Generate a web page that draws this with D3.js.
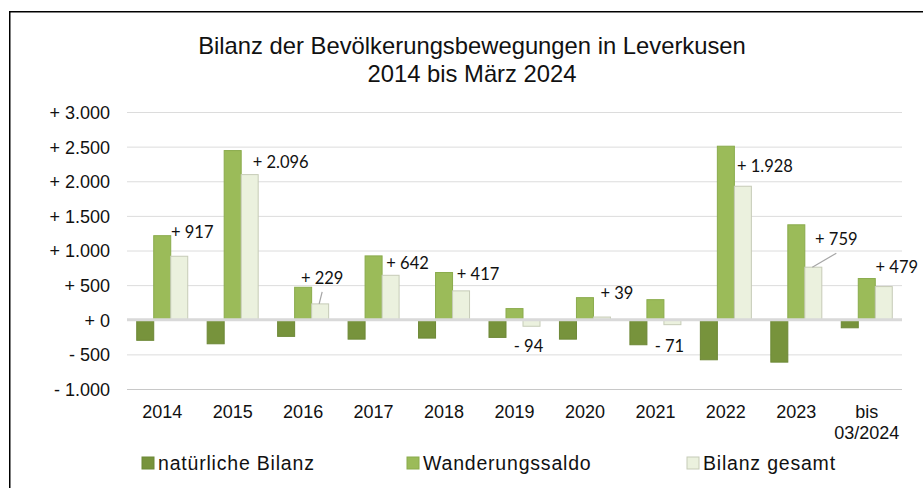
<!DOCTYPE html>
<html>
<head>
<meta charset="utf-8">
<script src="https://cdn.jsdelivr.net/npm/d3@7"></script>
<style>
  body { margin: 0; background: #fff; }
  svg { display: block; }
</style>
</head>
<body>
<div id="chart"></div>
<script>
// data
const categories = ['2014', '2015', '2016', '2017', '2018', '2019', '2020', '2021', '2022', '2023', 'bis 03/2024']
const natuerlich = [-297, -347, -240, -280, -265, -255, -280, -361, -578, -612, -116]
const wanderung = [1214, 2443, 469, 922, 682, 161, 319, 290, 2506, 1371, 595]
const gesamt = [917, 2096, 229, 642, 417, -94, 39, -71, 1928, 759, 479]
const yTicks = [-1000, -500, 0, 500, 1000, 1500, 2000, 2500, 3000]
const seriesNames = ['natürliche Bilanz', 'Wanderungssaldo', 'Bilanz gesamt']

// label nudges (dx, dy) relative to the "gesamt" bar end, as dragged in the original
const labelNudge = [[13, -24], [31, -13], [2, -26], [17, -12], [17, -17], [-3, 20], [15, -24], [-3, 21], [22, -20], [23, -28], [13, -20]]
const leaderFor = ['2016', '2023']

const colors = ['#77933c', '#9bbb59', '#ebf1de']
const strokes = ['#6d8836', '#8aab4c', '#c6cbb7']

const width = 923, height = 488
const plot = { left: 127, right: 902, top: 112, bottom: 389 }

const svg = d3.select('#chart').append('svg')
    .attr('width', width)
    .attr('height', height)

// frame
svg.append('rect')
    .attr('x', 9.75).attr('y', 11.75)
    .attr('width', 1000).attr('height', 1000)
    .attr('fill', 'none')
    .attr('stroke', '#000')
    .attr('stroke-width', 1.5)

// title
const title = svg.append('text')
    .attr('text-anchor', 'middle')
    .attr('font-family', 'Liberation Sans, Arial, sans-serif')
    .attr('font-size', 23.8)
    .attr('fill', '#111')
title.append('tspan').attr('x', 472).attr('y', 54).text('Bilanz der Bevölkerungsbewegungen in Leverkusen')
title.append('tspan').attr('x', 472).attr('y', 81.5).text('2014 bis März 2024')

const x = d3.scaleBand()
    .domain(categories)
    .range([plot.left, plot.right])
    .paddingInner(0.276)
    .paddingOuter(0.138)

const xs = d3.scaleBand()
    .domain([0, 1, 2])
    .range([0, x.bandwidth()])

const y = d3.scaleLinear()
    .domain([-1000, 3000])
    .range([plot.bottom, plot.top])

const fmt = v => {
    let s = d3.format(',')(Math.abs(v)).replace(/,/g, '.')
    return (v < 0 ? '- ' : '+ ') + s
}

// grid + y labels
const yAxis = d3.axisLeft(y)
    .tickValues(yTicks)
    .tickSize(-(plot.right - plot.left))
    .tickPadding(17)
    .tickFormat(fmt)

const yAxisG = svg.append('g')
    .attr('transform', `translate(${plot.left}, 0)`)
    .call(yAxis)
yAxisG.select('.domain').remove()
yAxisG.selectAll('.tick line')
    .attr('stroke', d => d === -1000 ? '#c8c8c8' : '#dcdcdc')
    .attr('stroke-width', 1)
yAxisG.selectAll('.tick text')
    .attr('font-family', 'Liberation Sans, Arial, sans-serif')
    .attr('font-size', 18)
    .attr('fill', '#111')
    .attr('dy', '0.36em')

// bars
const series = [natuerlich, wanderung, gesamt]
series.forEach((vals, s) => {
    svg.append('g').selectAll('rect')
        .data(vals)
        .join('rect')
        .attr('x', (d, i) => x(categories[i]) + xs(s))
        .attr('width', xs.bandwidth())
        .attr('y', d => y(Math.max(0, d)))
        .attr('height', d => Math.abs(y(d) - y(0)))
        .attr('fill', colors[s])
        .attr('stroke', strokes[s])
        .attr('stroke-width', 1)
})

// zero line on top of bars
svg.append('line')
    .attr('x1', plot.left).attr('x2', plot.right)
    .attr('y1', y(0)).attr('y2', y(0))
    .attr('stroke', '#d9d9d9')
    .attr('stroke-width', 3)

// x labels
const xAxisG = svg.append('g')
xAxisG.selectAll('text')
    .data(categories)
    .join('text')
    .attr('x', d => x(d) + x.bandwidth() / 2)
    .attr('y', 418)
    .attr('text-anchor', 'middle')
    .attr('font-family', 'Liberation Sans, Arial, sans-serif')
    .attr('font-size', 18)
    .attr('fill', '#111')
    .each(function (d) {
        const parts = d.split(' ')
        const t = d3.select(this)
        parts.forEach((p, k) => {
            t.append('tspan')
                .attr('x', x(d) + x.bandwidth() / 2)
                .attr('dy', k === 0 ? 0 : 21)
                .text(p)
        })
    })

// data labels for "Bilanz gesamt"
const labelG = svg.append('g')
gesamt.forEach((v, i) => {
    const cat = categories[i]
    const bx = x(cat) + xs(2) + xs.bandwidth() / 2
    const by = y(v)
    const lx = bx + labelNudge[i][0]
    const ly = by + labelNudge[i][1]
    if (leaderFor.includes(cat)) {
        labelG.append('line')
            .attr('x1', lx).attr('y1', ly + 14)
            .attr('x2', bx - 1).attr('y2', by)
            .attr('stroke', '#a6a6a6')
            .attr('stroke-width', 1.2)
    }
    labelG.append('text')
        .attr('x', lx)
        .attr('y', ly)
        .attr('dy', '0.36em')
        .attr('text-anchor', 'middle')
        .attr('font-family', 'Lato, Open Sans, sans-serif')
        .attr('font-size', 16.5)
        .attr('fill', '#111')
        .text(fmt(v))
})

// legend
const legendX = [142, 407, 687]
const legend = svg.append('g')
seriesNames.forEach((name, s) => {
    legend.append('rect')
        .attr('x', legendX[s]).attr('y', 457)
        .attr('width', 12).attr('height', 12)
        .attr('fill', colors[s])
        .attr('stroke', s === 2 ? '#c6cbb7' : strokes[s])
    legend.append('text')
        .attr('x', legendX[s] + 16)
        .attr('y', 470)
        .attr('font-family', 'Liberation Sans, Arial, sans-serif')
        .attr('font-size', 19.5)
        .attr('letter-spacing', 0.8)
        .attr('fill', '#111')
        .text(name)
})
</script>
</body>
</html>
